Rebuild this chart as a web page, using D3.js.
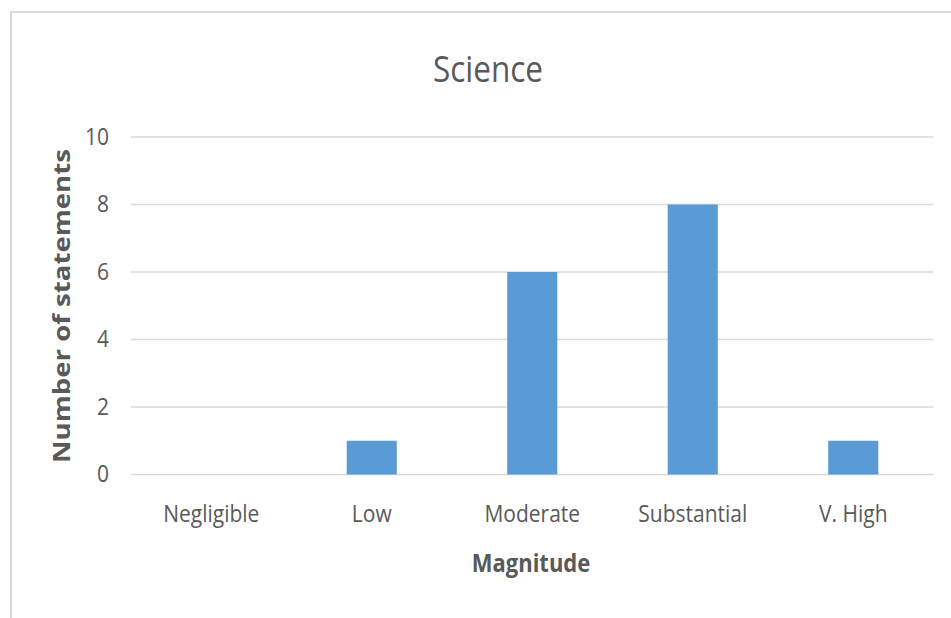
<!DOCTYPE html>
<html><head><meta charset="utf-8">
<script src="https://cdn.jsdelivr.net/npm/d3@7"></script>
<style>html,body{margin:0;padding:0;background:#fff}svg{display:block}</style>
</head><body>
<script>
const categories = ["Negligible", "Low", "Moderate", "Substantial", "V. High"];
const values = [0, 1, 6, 8, 1];
const yTicks = [0, 2, 4, 6, 8, 10];
const title = "Science";
const xTitle = "Magnitude";
const yTitle = "Number of statements";

const W = 951, H = 618;
const font = "'Open Sans', sans-serif";
const color = "#595959";
const svg = d3.select("body").append("svg").attr("width", W).attr("height", H);

// outer chart border
svg.append("path").attr("d", `M11,${H} V12 H${W}`).attr("fill", "none")
  .attr("stroke", "#d9d9d9").attr("stroke-width", 2);

const x = d3.scaleBand().domain(categories).range([131, 933.5]).paddingInner(0.688).paddingOuter(0.344);
const y = d3.scaleLinear().domain([0, 10]).range([474.5, 137]);

// gridlines
svg.append("g").selectAll("line").data(yTicks).join("line")
  .attr("x1", 131).attr("x2", 933.5)
  .attr("y1", d => y(d)).attr("y2", d => y(d))
  .attr("stroke", "#d9d9d9").attr("stroke-width", 1.5);

// y tick labels (vertically stretched like the reference)
svg.append("g").selectAll("text").data(yTicks).join("text")
  .attr("transform", d => `translate(109,${y(d) + 7.5}) scale(1,1.15)`)
  .attr("text-anchor", "end")
  .attr("font-family", font).attr("font-size", 21).attr("fill", color)
  .text(d => d);

// bars
svg.append("g").selectAll("rect").data(values).join("rect")
  .attr("x", (d, i) => x(categories[i]))
  .attr("width", x.bandwidth())
  .attr("y", d => y(d))
  .attr("height", d => y(0) - y(d))
  .attr("fill", "#5b9bd5");

// x tick labels
svg.append("g").selectAll("text").data(categories).join("text")
  .attr("transform", d => `translate(${x(d) + x.bandwidth() / 2},${y(0) + 47.5}) scale(1,1.12)`)
  .attr("text-anchor", "middle")
  .attr("font-family", font).attr("font-size", 21).attr("fill", color)
  .text(d => d);

// titles
svg.append("text").attr("transform", "translate(488,82) scale(1,1.13)").attr("text-anchor", "middle")
  .attr("font-family", font).attr("font-size", 31.5).attr("fill", color).text(title);
svg.append("text").attr("transform", "translate(531,572) scale(1,1.15)").attr("text-anchor", "middle")
  .attr("font-family", font).attr("font-size", 22).attr("font-weight", "bold").attr("fill", color).text(xTitle);
svg.append("text").attr("transform", "translate(70,306) rotate(-90) scale(1.2,1)").attr("text-anchor", "middle")
  .attr("font-family", font).attr("font-size", 23).attr("font-weight", "bold").attr("fill", color).text(yTitle);
</script>
</body></html>
